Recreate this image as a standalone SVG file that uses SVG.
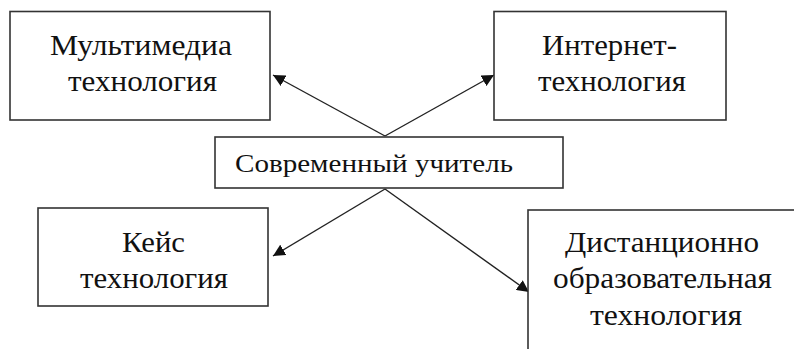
<svg xmlns="http://www.w3.org/2000/svg" width="794" height="349" viewBox="0 0 794 349">
<style>
.box{fill:#fff;stroke:#333;stroke-width:1.6}
.t{font-family:"Liberation Serif","DejaVu Serif","Times New Roman",serif;font-size:29px;fill:#111;text-anchor:middle}
.c{font-family:"Liberation Serif","DejaVu Serif","Times New Roman",serif;font-size:25px;fill:#111;text-anchor:middle}
.ln{stroke:#222;stroke-width:1.4;fill:none;marker-end:url(#ah)}
</style>
<defs>
<marker id="ah" viewBox="0 0 10 10" refX="10" refY="5" markerWidth="12" markerHeight="12" markerUnits="userSpaceOnUse" orient="auto">
<path d="M0,0 L10,5 L0,10 z" fill="#111"/>
</marker>
</defs>
<rect width="794" height="349" fill="#fff"/>
<g id="connectors">
<line class="ln" x1="385" y1="136" x2="273" y2="75"/>
<line class="ln" x1="385" y1="136" x2="494" y2="75"/>
<line class="ln" x1="385" y1="189" x2="273" y2="256"/>
<line class="ln" x1="385" y1="189" x2="529" y2="292"/>
</g>
<g id="multimedia">
<rect class="box" x="10" y="11.5" width="260" height="108.5"/>
<text class="t" x="141" y="55" textLength="182" lengthAdjust="spacingAndGlyphs">Мультимедиа</text>
<text class="t" x="142.5" y="91" textLength="149" lengthAdjust="spacingAndGlyphs">технология</text>
</g>
<g id="internet">
<rect class="box" x="494" y="11.5" width="232" height="108.5"/>
<text class="t" x="609.5" y="55" textLength="135" lengthAdjust="spacingAndGlyphs">Интернет-</text>
<text class="t" x="612" y="91" textLength="148" lengthAdjust="spacingAndGlyphs">технология</text>
</g>
<g id="teacher">
<rect class="box" x="215" y="137" width="348" height="51"/>
<text class="c" x="374" y="172" textLength="278" lengthAdjust="spacingAndGlyphs">Современный учитель</text>
</g>
<g id="case">
<rect class="box" x="38" y="208" width="230" height="98"/>
<text class="t" x="153.5" y="252" textLength="63" lengthAdjust="spacingAndGlyphs">Кейс</text>
<text class="t" x="154" y="288" textLength="148" lengthAdjust="spacingAndGlyphs">технология</text>
</g>
<g id="distance">
<rect class="box" x="528" y="210" width="270" height="150"/>
<text class="t" x="662" y="252" textLength="194" lengthAdjust="spacingAndGlyphs">Дистанционно</text>
<text class="t" x="662.5" y="288" textLength="219" lengthAdjust="spacingAndGlyphs">образовательная</text>
<text class="t" x="666" y="325" textLength="152" lengthAdjust="spacingAndGlyphs">технология</text>
</g>
</svg>
